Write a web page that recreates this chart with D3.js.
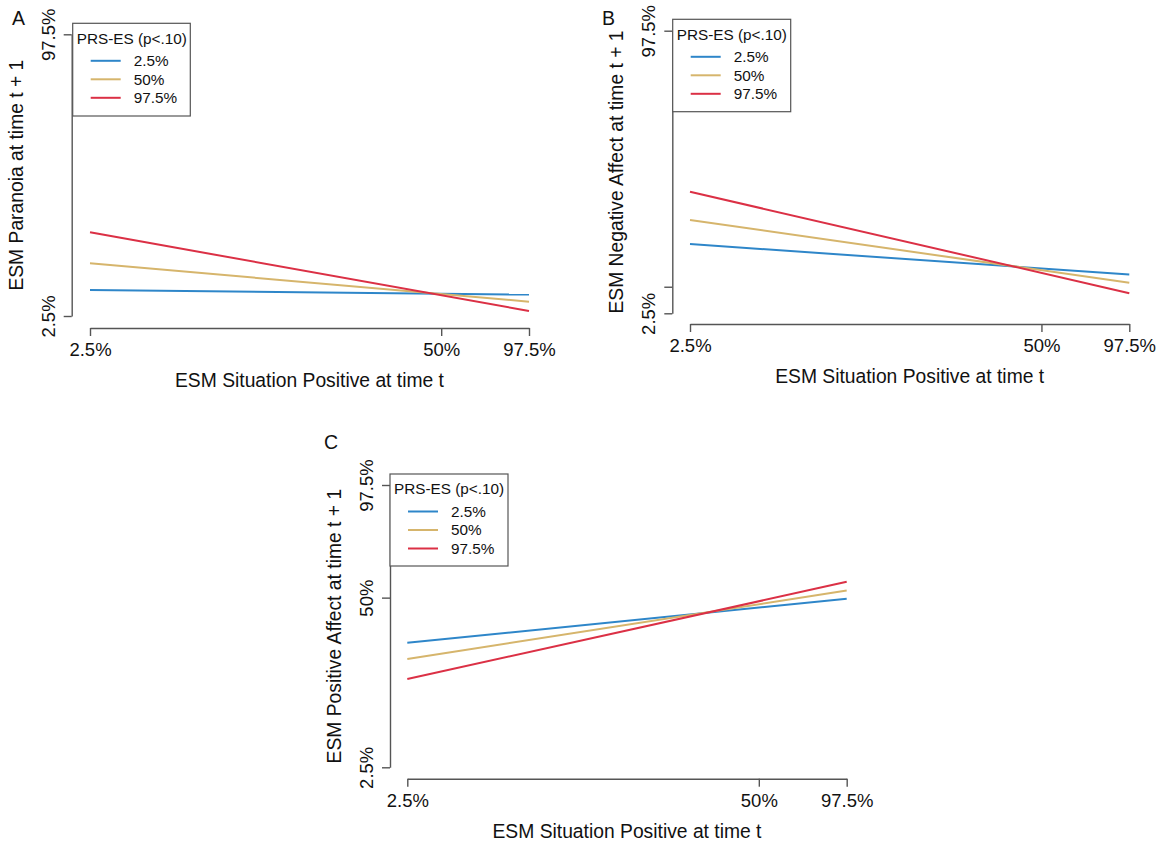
<!DOCTYPE html>
<html>
<head>
<meta charset="utf-8">
<script src="https://cdn.jsdelivr.net/npm/d3@7"></script>
<style>
  html, body { margin: 0; padding: 0; background: #fff; }
  svg { display: block; font-family: "Liberation Sans", Arial, sans-serif; }
</style>
</head>
<body>
<svg id="chart" width="1163" height="842"></svg>
<script>
// ---------------- data ----------------
// x: ESM Situation Positive at time t (positions on the rescaled predictor axis)
const xTickValues = [0, 0.8, 1];
const xTickLabels = ["2.5%", "50%", "97.5%"];
const xEnds = [0, 1];

// legend / moderator levels (PRS-ES)
const seriesNames = ["2.5%", "50%", "97.5%"];
const seriesColors = ["#2e86c9", "#d6b56c", "#db3045"];

// Panel A: ESM Paranoia at time t + 1  (start, end) per PRS-ES level
const paranoiaLow  = [0.092, 0.076];
const paranoiaMid  = [0.187, 0.051];
const paranoiaHigh = [0.297, 0.018];
const paranoiaYTicks = [0, 1];
const paranoiaYLabels = ["2.5%", "97.5%"];

// Panel B: ESM Negative Affect at time t + 1
const negLow  = [0.245, 0.137];
const negMid  = [0.330, 0.108];
const negHigh = [0.430, 0.071];
const negYTicks = [0, 0.094, 1];
const negYLabels = ["2.5%", "50%", "97.5%"];

// Panel C: ESM Positive Affect at time t + 1
const posLow  = [0.441, 0.597];
const posMid  = [0.384, 0.626];
const posHigh = [0.313, 0.657];
const posYTicks = [0, 0.601, 1];
const posYLabels = ["2.5%", "50%", "97.5%"];

const xTitle = "ESM Situation Positive at time t";
const legendTitle = "PRS-ES (p<.10)";

// ---------------- layout ----------------
const panels = [
  { letter: "A", yTitle: "ESM Paranoia at time t + 1",
    series: [paranoiaLow, paranoiaMid, paranoiaHigh], yTicks: paranoiaYTicks, yLabels: paranoiaYLabels,
    x0: 90, x1: 529, axisY: 328, yB: 316, yT: 34.3, axisX: 71.7,
    leg: { x: 72.7, y: 23.3, w: 117.6, h: 92.7 }, letterPos: [12, 25] },
  { letter: "B", yTitle: "ESM Negative Affect at time t + 1",
    series: [negLow, negMid, negHigh], yTicks: negYTicks, yLabels: negYLabels,
    x0: 690, x1: 1129.3, axisY: 324, yB: 313.3, yT: 30.7, axisX: 672.3,
    leg: { x: 672.7, y: 19.3, w: 118, h: 92.4 }, letterPos: [602, 25] },
  { letter: "C", yTitle: "ESM Positive Affect at time t + 1",
    series: [posLow, posMid, posHigh], yTicks: posYTicks, yLabels: posYLabels,
    x0: 407.3, x1: 846.7, axisY: 778.7, yB: 767.3, yT: 485, axisX: 390,
    leg: { x: 390, y: 474, w: 118, h: 92 }, letterPos: [324, 449] }
];

const svg = d3.select("#chart");
const axisColor = "#555";
const tickFont = 18.5, titleFont = 19.3, legendFont = 15.3, letterFont = 19.5;

panels.forEach(p => {
  const g = svg.append("g");
  const x = d3.scaleLinear().domain([0, 1]).range([p.x0, p.x1]);
  const y = d3.scaleLinear().domain([0, 1]).range([p.yB, p.yT]);

  // x axis
  const xa = g.append("g").attr("transform", `translate(0,${p.axisY})`)
    .call(d3.axisBottom(x).tickValues(xTickValues)
      .tickFormat((d, i) => xTickLabels[i]).tickSize(8).tickSizeOuter(0));
  xa.select(".domain").attr("stroke", axisColor).attr("stroke-width", 1.4);
  xa.selectAll(".tick line").attr("stroke", axisColor).attr("stroke-width", 1.4);
  xa.selectAll(".tick text").attr("y", 28).attr("dy", 0)
    .attr("font-size", tickFont).attr("fill", "#111").attr("font-family", null);

  // y axis
  const ya = g.append("g").attr("transform", `translate(${p.axisX},0)`)
    .call(d3.axisLeft(y).tickValues(p.yTicks)
      .tickFormat((d, i) => p.yLabels[i]).tickSize(8).tickSizeOuter(0));
  ya.select(".domain").attr("stroke", axisColor).attr("stroke-width", 1.4);
  ya.selectAll(".tick line").attr("stroke", axisColor).attr("stroke-width", 1.4);
  const yt = ya.selectAll(".tick text")
    .attr("x", 0).attr("y", -17).attr("dy", 0)
    .attr("transform", "rotate(-90)")
    .attr("text-anchor", "middle")
    .attr("font-size", tickFont).attr("fill", "#111").attr("font-family", null);
  // drop overlapping labels (as R does)
  let lastEdge = Infinity;
  yt.each(function(d) {
    const w = this.getComputedTextLength();
    const cy = y(d);
    const lo = cy + w / 2, hi = cy - w / 2;
    if (lo > lastEdge - 4) { d3.select(this).attr("display", "none"); }
    else { lastEdge = hi; }
  });

  // lines
  p.series.forEach((s, i) => {
    g.append("line")
      .attr("x1", x(xEnds[0])).attr("y1", y(s[0]))
      .attr("x2", x(xEnds[1])).attr("y2", y(s[1]))
      .attr("stroke", seriesColors[i]).attr("stroke-width", 2);
  });

  // axis titles
  g.append("text").attr("x", (p.x0 + p.x1) / 2).attr("y", p.axisY + 59)
    .attr("text-anchor", "middle").attr("font-size", titleFont).attr("fill", "#111").text(xTitle);
  g.append("text")
    .attr("transform", `translate(${p.axisX - 49},${(p.yB + p.yT) / 2}) rotate(-90)`)
    .attr("text-anchor", "middle").attr("font-size", titleFont).attr("fill", "#111").text(p.yTitle);

  // panel letter
  g.append("text").attr("x", p.letterPos[0]).attr("y", p.letterPos[1])
    .attr("font-size", letterFont).attr("fill", "#111").text(p.letter);

  // legend
  const L = p.leg;
  const lg = g.append("g").attr("transform", `translate(${L.x},${L.y})`);
  lg.append("rect").attr("width", L.w).attr("height", L.h)
    .attr("fill", "#fff").attr("stroke", axisColor).attr("stroke-width", 1.2);
  lg.append("text").attr("x", 4).attr("y", 15).attr("dy", "0.35em")
    .attr("font-size", legendFont).attr("fill", "#111").text(legendTitle);
  const rows = [37.5, 56, 74.5];
  seriesNames.forEach((n, i) => {
    lg.append("line").attr("x1", 18).attr("x2", 48).attr("y1", rows[i]).attr("y2", rows[i])
      .attr("stroke", seriesColors[i]).attr("stroke-width", 2);
    lg.append("text").attr("x", 61).attr("y", rows[i]).attr("dy", "0.35em")
      .attr("font-size", legendFont).attr("fill", "#111").text(n);
  });
});
</script>
</body>
</html>
